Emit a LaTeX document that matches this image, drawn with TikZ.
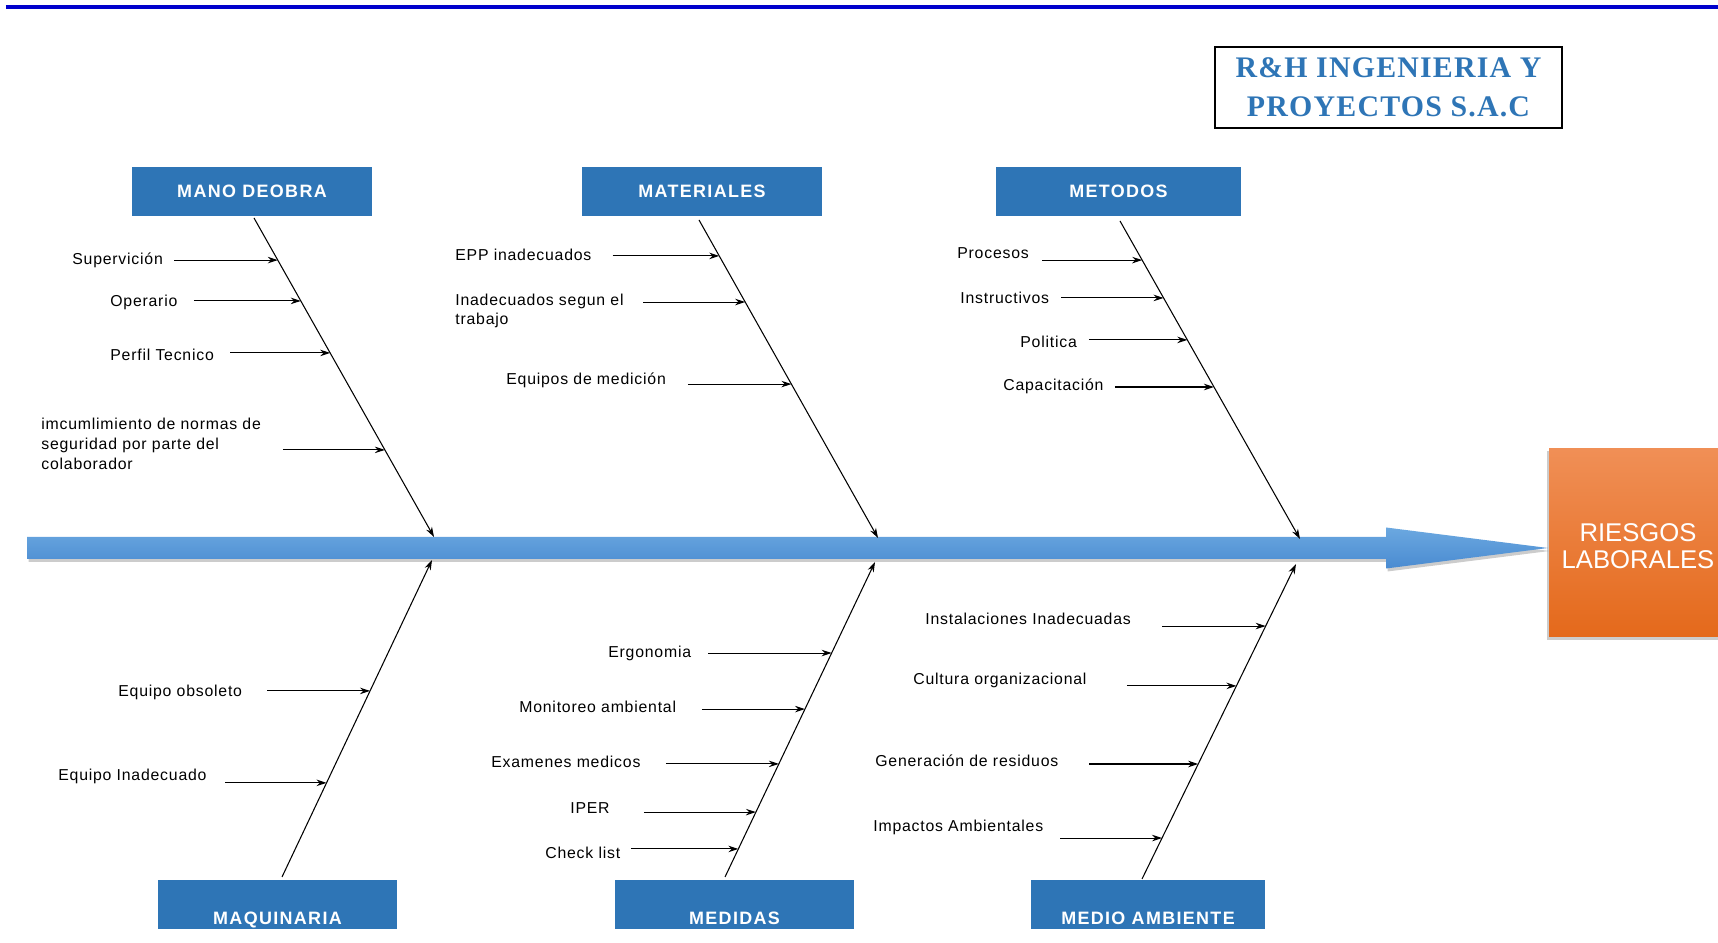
\documentclass[tikz,border=0pt]{standalone}
\usepackage{fontspec}
\setmainfont{Liberation Sans}
\newfontfamily\causafont[LetterSpace=5]{Liberation Sans}
\newfontfamily\catfont[LetterSpace=7.5]{Liberation Sans}
\newfontfamily\titfont[LetterSpace=4]{Liberation Serif}
\usepackage{xcolor}
\usepackage{tikz}
\usetikzlibrary{arrows.meta, positioning, calc}

\definecolor{cajaazul}{HTML}{2E75B6}
\definecolor{espinaclaro}{HTML}{6BA8E0}
\definecolor{espinaoscuro}{HTML}{4A8BD1}
\definecolor{naranjaclaro}{HTML}{F08F56}
\definecolor{naranjaoscuro}{HTML}{E4691B}
\definecolor{lineaazul}{HTML}{0000CC}

\begin{document}
\begin{tikzpicture}[
	causa/.style={anchor=west, inner sep=0pt, align=left, font={\causafont\fontsize{9}{11.2}\selectfont}},
	catsup/.style={fill=cajaazul, text=white, minimum height=0.98cm, inner sep=0pt, text height=0.26cm, text depth=0pt, font={\catfont\bfseries\fontsize{10.2}{12}\selectfont}},
	catinf/.style={fill=cajaazul, text=white, inner xsep=0pt, inner ysep=0.08cm, text height=0.82cm, text depth=0pt, font={\catfont\bfseries\fontsize{10.2}{12}\selectfont}},
	flecha/.style={line width=0.6pt, -{Stealth[length=0.2cm, width=0.13cm]}},
	]
			\useasboundingbox (0, 0) rectangle (34.36, 18.86);
			% Encabezado:
			\draw[lineaazul, line width=2.3pt] (0.12, 18.72) -- (34.36, 18.72);
			\node[draw, line width=0.9pt, minimum width=6.94cm, minimum height=1.62cm, text=cajaazul, align=center, font={\titfont\bfseries\fontsize{17}{22}\selectfont}](empresa) at (27.77, 17.11){R\&H INGENIERIA Y\\PROYECTOS S.A.C};
			% Espina central y efecto:
			\fill[black, opacity=0.2] (0.57, 8.06) -- (27.75, 8.06) -- (27.75, 8.25) -- (30.99, 7.84) -- (27.75, 7.43) -- (27.75, 7.62) -- (0.57, 7.62) -- cycle;
			\shade[top color=espinaclaro, bottom color=espinaoscuro] (0.54, 8.12) -- (27.72, 8.12) -- (27.72, 8.31) -- (30.96, 7.90) -- (27.72, 7.49) -- (27.72, 7.68) -- (0.54, 7.68) -- cycle;
			\fill[black, opacity=0.2] (30.94, 6.06) rectangle (34.36, 9.84);
			\node[top color=naranjaclaro, bottom color=naranjaoscuro, minimum width=3.38cm, minimum height=3.76cm, inner sep=0pt](efecto) at (32.67, 8.00){};
			\node[text=white, align=center, font={\fontsize{14.6}{15.5}\selectfont}](riesgos) at (32.76, 7.93){RIESGOS\\LABORALES};
			% Categorias:
			\node[catsup, minimum width=4.80cm](mo) at (5.04, 15.03){MANO DEOBRA};
			\node[catsup, minimum width=4.80cm](ma) at (14.04, 15.03){MATERIALES};
			\node[catsup, minimum width=4.90cm](me) at (22.37, 15.03){METODOS};
			\node[catinf, minimum width=4.78cm](mq) at (5.55, 0.77){MAQUINARIA};
			\node[catinf, minimum width=4.78cm](md) at (14.69, 0.77){MEDIDAS};
			\node[catinf, minimum width=4.68cm](am) at (22.96, 0.77){MEDIO AMBIENTE};
			% Espinas:
			\coordinate (b1) at (5.08, 14.50);
			\coordinate (h1) at (8.68, 8.12);
			\coordinate (b2) at (13.98, 14.46);
			\coordinate (h2) at (17.56, 8.10);
			\coordinate (b3) at (22.40, 14.44);
			\coordinate (h3) at (26.00, 8.08);
			\coordinate (b4) at (5.64, 1.32);
			\coordinate (h4) at (8.64, 7.66);
			\coordinate (b5) at (14.50, 1.32);
			\coordinate (h5) at (17.50, 7.62);
			\coordinate (b6) at (22.84, 1.28);
			\coordinate (h6) at (25.92, 7.58);
			\draw[flecha] (b1) -- (h1);
			\draw[flecha] (b2) -- (h2);
			\draw[flecha] (b3) -- (h3);
			\draw[flecha] (b4) -- (h4);
			\draw[flecha] (b5) -- (h5);
			\draw[flecha] (b6) -- (h6);
			% Mano de obra:
			\node[causa](mo1) at (1.44, 13.66){Supervición};
			\node[causa](mo2) at (2.20, 12.82){Operario};
			\node[causa](mo3) at (2.20, 11.76){Perfil Tecnico};
			\node[causa](mo4) at (0.82, 9.98){imcumlimiento de normas de\\seguridad por parte del\\colaborador};
			\coordinate (pmo1) at ($(b1)!0.132!(h1)$);
			\coordinate (pmo2) at ($(b1)!0.260!(h1)$);
			\coordinate (pmo3) at ($(b1)!0.423!(h1)$);
			\coordinate (pmo4) at ($(b1)!0.727!(h1)$);
			\draw[flecha] ([xshift=-2.07cm]pmo1) -- (pmo1);
			\draw[flecha] ([xshift=-2.14cm]pmo2) -- (pmo2);
			\draw[flecha] ([xshift=-2.00cm]pmo3) -- (pmo3);
			\draw[flecha] ([xshift=-2.04cm]pmo4) -- (pmo4);
			% Materiales:
			\node[causa](ma1) at (9.10, 13.76){EPP inadecuados};
			\node[causa](ma2) at (9.10, 12.64){Inadecuados segun el\\trabajo};
			\node[causa](ma3) at (10.12, 11.26){Equipos de medición};
			\coordinate (pma1) at ($(b2)!0.113!(h2)$);
			\coordinate (pma2) at ($(b2)!0.258!(h2)$);
			\coordinate (pma3) at ($(b2)!0.516!(h2)$);
			\draw[flecha] ([xshift=-2.13cm]pma1) -- (pma1);
			\draw[flecha] ([xshift=-2.04cm]pma2) -- (pma2);
			\draw[flecha] ([xshift=-2.07cm]pma3) -- (pma3);
			% Metodos:
			\node[causa](me1) at (19.14, 13.80){Procesos};
			\node[causa](me2) at (19.20, 12.90){Instructivos};
			\node[causa](me3) at (20.40, 12.02){Politica};
			\node[causa](me4) at (20.06, 11.14){Capacitación};
			\coordinate (pme1) at ($(b3)!0.123!(h3)$);
			\coordinate (pme2) at ($(b3)!0.242!(h3)$);
			\coordinate (pme3) at ($(b3)!0.374!(h3)$);
			\coordinate (pme4) at ($(b3)!0.522!(h3)$);
			\draw[flecha] ([xshift=-2.00cm]pme1) -- (pme1);
			\draw[flecha] ([xshift=-2.05cm]pme2) -- (pme2);
			\draw[flecha] ([xshift=-1.97cm]pme3) -- (pme3);
			\draw[flecha] ([xshift=-1.98cm]pme4) -- (pme4);
			% Maquinaria:
			\node[causa](mq1) at (2.36, 5.02){Equipo obsoleto};
			\node[causa](mq2) at (1.16, 3.34){Equipo Inadecuado};
			\coordinate (pmq1) at ($(b4)!0.587!(h4)$);
			\coordinate (pmq2) at ($(b4)!0.297!(h4)$);
			\draw[flecha] ([xshift=-2.06cm]pmq1) -- (pmq1);
			\draw[flecha] ([xshift=-2.03cm]pmq2) -- (pmq2);
			% Medidas:
			\node[causa](md1) at (12.16, 5.80){Ergonomia};
			\node[causa](md2) at (10.38, 4.72){Monitoreo ambiental};
			\node[causa](md3) at (9.82, 3.62){Examenes medicos};
			\node[causa](md4) at (11.40, 2.70){IPER};
			\node[causa](md5) at (10.90, 1.80){Check list};
			\coordinate (pmd1) at ($(b5)!0.711!(h5)$);
			\coordinate (pmd2) at ($(b5)!0.533!(h5)$);
			\coordinate (pmd3) at ($(b5)!0.359!(h5)$);
			\coordinate (pmd4) at ($(b5)!0.206!(h5)$);
			\coordinate (pmd5) at ($(b5)!0.089!(h5)$);
			\draw[flecha] ([xshift=-2.47cm]pmd1) -- (pmd1);
			\draw[flecha] ([xshift=-2.06cm]pmd2) -- (pmd2);
			\draw[flecha] ([xshift=-2.26cm]pmd3) -- (pmd3);
			\draw[flecha] ([xshift=-2.24cm]pmd4) -- (pmd4);
			\draw[flecha] ([xshift=-2.15cm]pmd5) -- (pmd5);
			% Medio ambiente:
			\node[causa](am1) at (18.50, 6.48){Instalaciones Inadecuadas};
			\node[causa](am2) at (18.26, 5.26){Cultura organizacional};
			\node[causa](am3) at (17.50, 3.64){Generación de residuos};
			\node[causa](am4) at (17.46, 2.32){Impactos Ambientales};
			\coordinate (pam1) at ($(b6)!0.803!(h6)$);
			\coordinate (pam2) at ($(b6)!0.613!(h6)$);
			\coordinate (pam3) at ($(b6)!0.365!(h6)$);
			\coordinate (pam4) at ($(b6)!0.130!(h6)$);
			\draw[flecha] ([xshift=-2.07cm]pam1) -- (pam1);
			\draw[flecha] ([xshift=-2.19cm]pam2) -- (pam2);
			\draw[flecha] ([xshift=-2.18cm]pam3) -- (pam3);
			\draw[flecha] ([xshift=-2.04cm]pam4) -- (pam4);
		\end{tikzpicture}
\end{document}
